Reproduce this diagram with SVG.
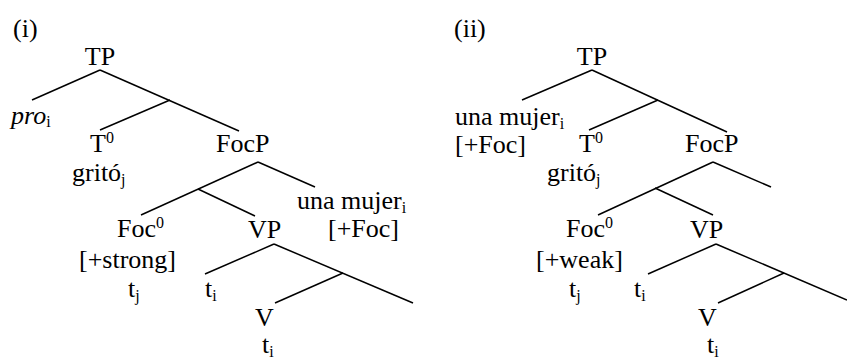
<svg xmlns="http://www.w3.org/2000/svg" width="847" height="359" viewBox="0 0 847 359">
<style>
text{font-family:'Liberation Serif',serif;font-size:26px;fill:#000}
.sub{font-size:16px}
.it{font-style:italic}
.mid{text-anchor:middle}
#connectors line{stroke:#000;stroke-width:1.5;fill:none}
</style>
<rect width="847" height="359" fill="#fff"/>
<g id="connectors">
<line x1="100" y1="70" x2="32" y2="100"/>
<line x1="100" y1="70" x2="239" y2="131"/>
<line x1="170" y1="100" x2="100" y2="130"/>
<line x1="258" y1="162" x2="315" y2="187"/>
<line x1="258" y1="162" x2="141" y2="215"/>
<line x1="198" y1="189" x2="255" y2="216"/>
<line x1="274" y1="244" x2="205" y2="274"/>
<line x1="274" y1="244" x2="413" y2="303"/>
<line x1="343" y1="273" x2="275" y2="303"/>
<line x1="592" y1="70" x2="522" y2="100"/>
<line x1="592" y1="70" x2="727" y2="132"/>
<line x1="658" y1="100" x2="589" y2="130"/>
<line x1="713" y1="162" x2="771" y2="187"/>
<line x1="713" y1="162" x2="598" y2="215"/>
<line x1="655" y1="188" x2="713" y2="215"/>
<line x1="716" y1="244" x2="648" y2="274"/>
<line x1="716" y1="244" x2="847" y2="300"/>
<line x1="784" y1="273" x2="718" y2="303"/>
</g>
<g id="label-i"><text x="13" y="37">(i)</text></g>
<g id="i-TP"><text class="mid" x="100" y="65">TP</text></g>
<g id="i-pro"><text x="11" y="124"><tspan class="it">pro</tspan><tspan class="sub" dy="3">i</tspan></text></g>
<g id="i-T0"><text x="90" y="152">T<tspan class="sub" dy="-9">0</tspan></text></g>
<g id="i-grito"><text x="72" y="181">gritó<tspan class="sub" dy="4">j</tspan></text></g>
<g id="i-FocP"><text x="216" y="152">FocP</text></g>
<g id="i-mujer"><text x="297" y="209">una mujer<tspan class="sub" dy="4">i</tspan></text><text x="328" y="237">[+Foc]</text></g>
<g id="i-Foc0"><text x="117" y="237">Foc<tspan class="sub" dy="-9">0</tspan></text><text x="79" y="268">[+strong]</text><text x="128" y="297">t<tspan class="sub" dy="4">j</tspan></text></g>
<g id="i-VP"><text x="248" y="238">VP</text></g>
<g id="i-ti"><text x="205" y="297">t<tspan class="sub" dy="4">i</tspan></text></g>
<g id="i-V"><text x="255" y="326">V</text><text x="262" y="353">t<tspan class="sub" dy="4">i</tspan></text></g>
<g id="label-ii"><text x="454" y="37">(ii)</text></g>
<g id="ii-TP"><text class="mid" x="592" y="65">TP</text></g>
<g id="ii-mujer"><text x="455" y="125">una mujer<tspan class="sub" dy="4">i</tspan></text><text x="455" y="153">[+Foc]</text></g>
<g id="ii-T0"><text x="579" y="152">T<tspan class="sub" dy="-9">0</tspan></text></g>
<g id="ii-grito"><text x="547" y="181">gritó<tspan class="sub" dy="4">j</tspan></text></g>
<g id="ii-FocP"><text x="685" y="152">FocP</text></g>
<g id="ii-Foc0"><text x="566" y="237">Foc<tspan class="sub" dy="-9">0</tspan></text><text x="536" y="268">[+weak]</text><text x="569" y="297">t<tspan class="sub" dy="4">j</tspan></text></g>
<g id="ii-VP"><text x="690" y="238">VP</text></g>
<g id="ii-ti"><text x="634" y="297">t<tspan class="sub" dy="4">i</tspan></text></g>
<g id="ii-V"><text x="698" y="326">V</text><text x="707" y="353">t<tspan class="sub" dy="4">i</tspan></text></g>
</svg>
